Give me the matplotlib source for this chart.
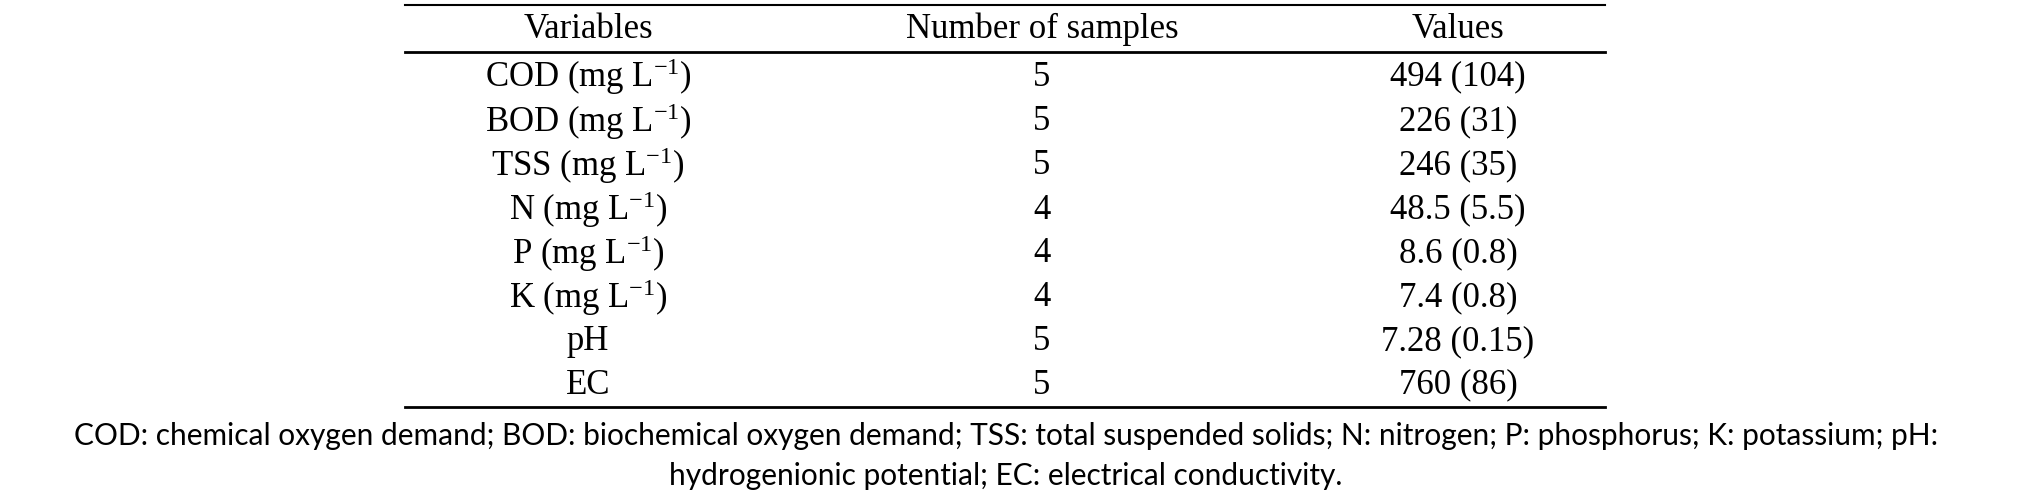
import matplotlib
matplotlib.use("Agg")
import matplotlib.pyplot as plt

headers = ["Variables", "Number of samples", "Values"]
variables = [r"COD (mg L$^{\mathregular{-1}}$)", r"BOD (mg L$^{\mathregular{-1}}$)", r"TSS (mg L$^{\mathregular{-1}}$)",
             r"N (mg L$^{\mathregular{-1}}$)", r"P (mg L$^{\mathregular{-1}}$)", r"K (mg L$^{\mathregular{-1}}$)", "pH", "EC"]
n_samples = [5, 5, 5, 4, 4, 4, 5, 5]
values = ["494 (104)", "226 (31)", "246 (35)", "48.5 (5.5)", "8.6 (0.8)", "7.4 (0.8)", "7.28 (0.15)", "760 (86)"]
caption = ["COD: chemical oxygen demand; BOD: biochemical oxygen demand; TSS: total suspended solids; N: nitrogen; P: phosphorus; K: potassium; pH:",
           "hydrogenionic potential; EC: electrical conductivity."]

plt.rcParams['mathtext.fontset'] = 'custom'
plt.rcParams['mathtext.rm'] = 'Liberation Serif'
plt.rcParams['mathtext.it'] = 'Liberation Serif:italic'

fig = plt.figure(figsize=(20.19, 4.98), dpi=100)
H = 498.0
W = 2019.0
def fy(y): return 1 - y / H
def fx(x): return x / W

serif = dict(family="Liberation Serif", fontsize=25, ha="center", va="center")
colx = [588, 1042, 1458]
x0, x1 = fx(405), fx(1605)
fig.add_artist(plt.Line2D([x0, x1], [fy(5), fy(5)], color="black", lw=1.5))
fig.add_artist(plt.Line2D([x0, x1], [fy(52), fy(52)], color="black", lw=2.0))
fig.add_artist(plt.Line2D([x0, x1], [fy(407), fy(407)], color="black", lw=2.0))

for cx, h in zip(colx, headers):
    fig.text(fx(cx), fy(29), h, **serif)
rows_y = [77, 122, 166, 210, 254, 298, 342, 385]
for y, v, n, val in zip(rows_y, variables, n_samples, values):
    fig.text(fx(colx[0]), fy(y), v, **serif)
    fig.text(fx(colx[1]), fy(y), str(n), **serif)
    fig.text(fx(colx[2]), fy(y), val, **serif)

for y, line in zip([436, 476], caption):
    fig.text(fx(1006), fy(y), line, family="Lato", fontsize=21.5, ha="center", va="center")

fig.savefig("out.png", dpi=100)
